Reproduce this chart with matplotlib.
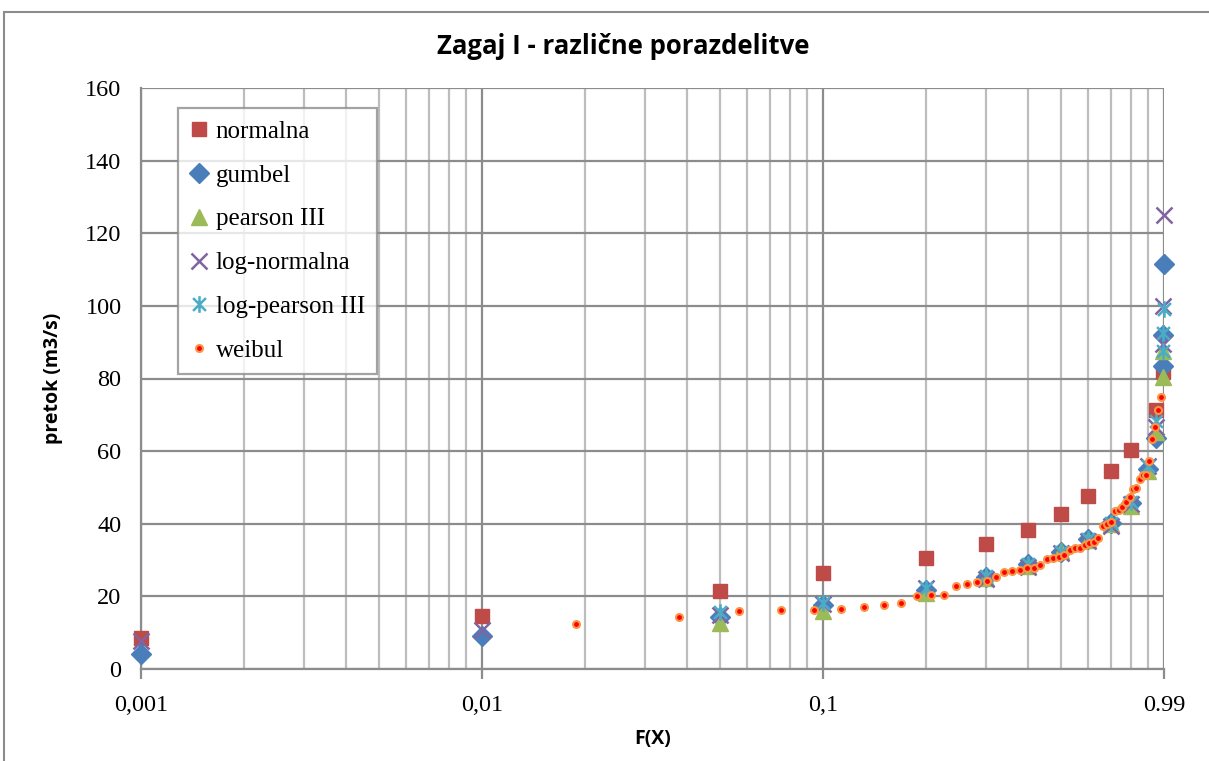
import numpy as np
import matplotlib
matplotlib.use("Agg")
import matplotlib.pyplot as plt
import matplotlib.path as mpath
from matplotlib.patches import Rectangle
from matplotlib.ticker import FixedLocator, NullFormatter

# probabilities used for the fitted distributions
F = [0.001, 0.01, 0.05, 0.1, 0.2, 0.3, 0.4, 0.5, 0.6, 0.7, 0.8, 0.9, 0.95, 0.99, 0.995, 0.999]
nan = np.nan
normalna = [8.5, 14.5, 21.4, 26.4, 30.5, 34.4, 38.4, 42.7, 47.7, 54.4, 60.3, nan, 71.2, 81.7, nan, nan]
gumbel = [4.0, 9.0, 14.3, 17.5, 21.8, 25.4, 28.8, 32.1, 35.8, 40.1, 45.8, 55.0, 63.7, 83.5, 92.1, 111.6]
pearson3 = [nan, nan, 12.8, 16.1, 21.0, 25.0, 28.3, 32.6, 35.5, 40.0, 45.0, 54.6, 65.2, 80.3, 87.7, nan]
lognormalna = [7.8, 10.8, 15.0, 18.0, 22.2, 24.8, 28.0, 32.0, 35.3, 39.5, 45.5, 56.0, 66.6, 89.6, 99.9, 124.9]
logpearson3 = [nan, nan, 15.6, 18.3, 22.2, 25.6, 28.8, 32.1, 35.8, 40.3, 45.9, 56.0, 68.4, 87.7, 92.5, 99.2]

# empirical (weibull plotting positions)
weibul_F = [0.0189, 0.0377, 0.0566, 0.0755, 0.0943, 0.1132, 0.1321, 0.1509, 0.1698, 0.1887,
            0.2075, 0.2264, 0.2453, 0.2642, 0.2830, 0.3019, 0.3208, 0.3396, 0.3585, 0.3774,
            0.3962, 0.4151, 0.4340, 0.4528, 0.4717, 0.4906, 0.5094, 0.5283, 0.5472, 0.5660,
            0.5849, 0.6038, 0.6226, 0.6415, 0.6604, 0.6792, 0.6981, 0.7170, 0.7358, 0.7547,
            0.7736, 0.7925, 0.8113, 0.8302, 0.8491, 0.8679, 0.8868, 0.9057, 0.9245, 0.9434,
            0.9623, 0.9811]
weibul_Q = [12.4, 14.2, 15.9, 16.2, 16.3, 16.6, 17.0, 17.5, 18.3, 20.0,
            20.5, 20.5, 22.9, 23.4, 24.0, 24.3, 25.4, 26.6, 26.9, 27.4,
            27.7, 27.7, 28.6, 30.4, 30.5, 30.9, 31.5, 32.9, 33.2, 33.3,
            34.2, 34.6, 35.1, 36.2, 39.3, 39.9, 40.6, 43.6, 43.8, 44.5,
            46.1, 47.3, 49.6, 49.8, 52.3, 53.3, 53.4, 57.4, 63.4, 66.6,
            71.2, 75.0]

x_ticks = [0.001, 0.01, 0.1, 1.0]
x_labels = ["0,001", "0,01", "0,1", "0.99"]
y_ticks = list(range(0, 161, 20))

SERIF = "Liberation Serif"
MAJOR = "#8c8c8c"
MINOR = "#bdbdbd"

# Excel style asterisk: X plus vertical bar
ast = mpath.Path(
    [(-1, -1), (1, 1), (-1, 1), (1, -1), (0, -1.3), (0, 1.3)],
    [mpath.Path.MOVETO, mpath.Path.LINETO] * 3,
)

fig = plt.figure(figsize=(12.09, 7.61), dpi=100)
ax = fig.add_axes([141 / 1209, 1 - 669 / 761, (1164 - 141) / 1209, (669 - 88) / 761])

fig.patches.append(Rectangle((4 / 1209, -0.1), 1.2, 1 - 12 / 761 + 0.1, transform=fig.transFigure,
                             fill=False, edgecolor="#8c8c8c", lw=1.5, zorder=0))

kw = dict(ls="none", clip_on=False)
ax.plot(F, normalna, marker="s", ms=10, color="#BE4B48", mec="#BE4B48", label="normalna", zorder=3, **kw)
ax.plot(F, gumbel, marker="D", ms=10, color="#4A7EBB", mec="#4A7EBB", label="gumbel", zorder=4, **kw)
ax.plot(F, pearson3, marker="^", ms=11.5, color="#9BBB59", mec="#9BBB59", label="pearson III", zorder=5, **kw)
ax.plot(F, lognormalna, marker="x", ms=12, mew=1.8, color="#8064A2", label="log-normalna", zorder=6, **kw)
ax.plot(F, logpearson3, marker=ast, ms=12, mew=1.8, color="#4BACC6", mfc="none",
        label="log-pearson III", zorder=7, **kw)
ax.plot(weibul_F, weibul_Q, marker="o", ms=5, color="#FF0000", mec="#F79646", mew=1.5,
        label="weibul", zorder=8, **kw)

ax.set_xscale("log")
ax.set_xlim(0.001, 1.0)
ax.set_ylim(0, 160)
ax.xaxis.set_major_locator(FixedLocator(x_ticks))
ax.set_xticklabels(x_labels)
ax.xaxis.set_minor_locator(FixedLocator([m * d for d in (0.001, 0.01, 0.1) for m in range(2, 10)]))
ax.xaxis.set_minor_formatter(NullFormatter())
ax.set_yticks(y_ticks)

ax.grid(True, which="major", color=MAJOR, lw=1.6)
ax.grid(True, which="minor", axis="x", color=MINOR, lw=1.6)
ax.set_axisbelow(True)
for s in ["top", "right"]:
    ax.spines[s].set_visible(False)
for s in ["left", "bottom"]:
    ax.spines[s].set_color(MAJOR)
    ax.spines[s].set_linewidth(1.6)

ax.tick_params(axis="x", which="major", length=7, width=1.6, color=MAJOR, pad=12)
ax.tick_params(axis="x", which="minor", length=0)
ax.tick_params(axis="y", length=0, pad=14)
for lab in ax.get_xticklabels() + ax.get_yticklabels():
    lab.set_fontfamily(SERIF)
    lab.set_fontsize(17.5)

ax.set_xlabel("F(X)", fontsize=14, fontweight="bold", family="Open Sans", labelpad=9)
ax.set_ylabel("pretok (m3/s)", fontsize=14, fontweight="bold", family="Open Sans", labelpad=16)
fig.text(623 / 1209, 1 - 47 / 761, "Zagaj I - različne porazdelitve", ha="center", va="center",
         fontsize=18.5, fontweight="bold", family="Open Sans")

leg = ax.legend(loc="upper left", bbox_to_anchor=((178 - 141) / 1023, (669 - 108) / 581),
                prop={"family": SERIF, "size": 18}, frameon=True, fancybox=False,
                borderpad=0.5, labelspacing=0.85, handlelength=0.7, handletextpad=0.3,
                borderaxespad=0)
leg.get_frame().set_edgecolor(MAJOR)
leg.get_frame().set_linewidth(1.6)

fig.savefig("out.png", dpi=100)
